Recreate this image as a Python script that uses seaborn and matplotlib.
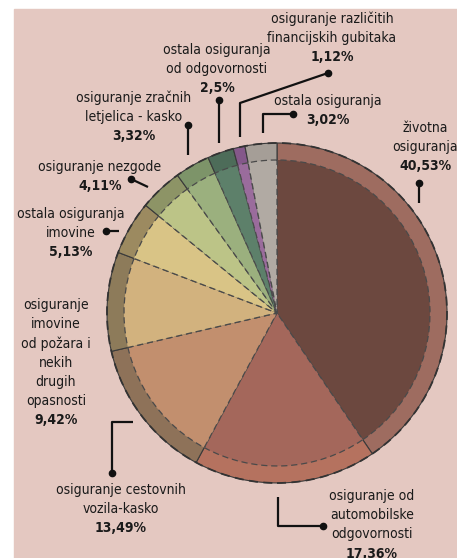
import matplotlib
matplotlib.use("Agg")
import matplotlib.pyplot as plt
import seaborn as sns
from matplotlib.patches import Rectangle, Circle

# Share of premium by insurance type (%), clockwise from the top
names = [
    "životna\nosiguranja",
    "osiguranje od\nautomobilske\nodgovornosti",
    "osiguranje cestovnih\nvozila-kasko",
    "osiguranje\nimovine\nod požara i\nnekih\ndrugih\nopasnosti",
    "ostala osiguranja\nimovine",
    "osiguranje nezgode",
    "osiguranje zračnih\nletjelica - kasko",
    "ostala osiguranja\nod odgovornosti",
    "osiguranje različitih\nfinancijskih gubitaka",
    "ostala osiguranja",
]
shares = [40.53, 17.36, 13.49, 9.42, 5.13, 4.11, 3.32, 2.5, 1.12, 3.02]

inner_colors = ["#6c483f", "#a4675b", "#c28f6e", "#d2b27e", "#d9c486",
                "#bcc487", "#9bb07e", "#5d806a", "#9a6c9c", "#b1aaa3"]
rim_colors = ["#9e6c60", "#b5725f", "#8e7259", "#8d7b5a", "#9c8a60",
              "#8d9466", "#7d9469", "#4d6c59", "#84588a", "#a59e97"]

W, H = 457, 558
CX, CY, R = 277, 313, 170


def fy(y):
    # image row -> data y
    return H - y


sns.set_theme(style="white")
plt.rcParams["font.family"] = ["DejaVu Sans"]
plt.rcParams["font.stretch"] = "condensed"

fig = plt.figure(figsize=(W / 100, H / 100), dpi=100)
ax = fig.add_axes([0, 0, 1, 1])

ax.add_patch(Rectangle((14, 0), W - 14, fy(9), color="#e4c8c1", zorder=0))

# outer rim
ax.pie(shares, colors=rim_colors, startangle=90, counterclock=False,
       center=(CX, fy(CY)), radius=R,
       wedgeprops=dict(edgecolor="#3a3a3a", linewidth=0.8))
# inner face
ax.pie(shares, colors=inner_colors, startangle=90, counterclock=False,
       center=(CX, fy(CY)), radius=R * 0.9,
       wedgeprops=dict(edgecolor="#4a4a4a", linewidth=0.9, linestyle=(0, (5, 3))))
ax.add_patch(Circle((CX, fy(CY)), R, fill=False, edgecolor="#333333",
                    linewidth=1.3, linestyle=(0, (5, 3)), zorder=5))

# label placement: centre x, first line y (image px)
layout = [
    (425, 128), (372, 496), (121, 490), (56, 305), (71, 214),
    (100, 167), (134, 98), (217, 50), (332, 19), (328, 101),
]
leaders = [
    [(419, 183), (419, 203)],
    [(323, 526), (278, 526), (278, 497)],
    [(112, 473), (112, 422), (133, 422)],
    [],
    [(106, 231), (119, 231)],
    [(131, 179), (148, 187)],
    [(188, 125), (188, 155)],
    [(219, 100), (219, 143)],
    [(328, 73), (240, 103), (240, 137)],
    [(293, 114), (263, 114), (263, 133)],
]

step = 19.2
for name, v, (x, y), pts in zip(names, shares, layout, leaders):
    lines = name.split("\n")
    for i, line in enumerate(lines):
        ax.text(x, fy(y + i * step), line, ha="center", va="center",
                fontsize=10, color="#1a1a1a")
    pct = f"{v:g}".replace(".", ",") + "%"
    ax.text(x, fy(y + len(lines) * step), pct, ha="center", va="center",
            fontsize=10, fontweight="bold", color="#1a1a1a")
    if pts:
        ax.plot([p[0] for p in pts], [fy(p[1]) for p in pts],
                color="#111111", linewidth=1.6, solid_capstyle="butt")
        ax.plot(pts[0][0], fy(pts[0][1]), "o", color="#111111", markersize=4.5)

ax.set_xlim(0, W)
ax.set_ylim(0, H)
ax.set_aspect("auto")
ax.axis("off")

fig.savefig("out.png", dpi=100, facecolor="white")
